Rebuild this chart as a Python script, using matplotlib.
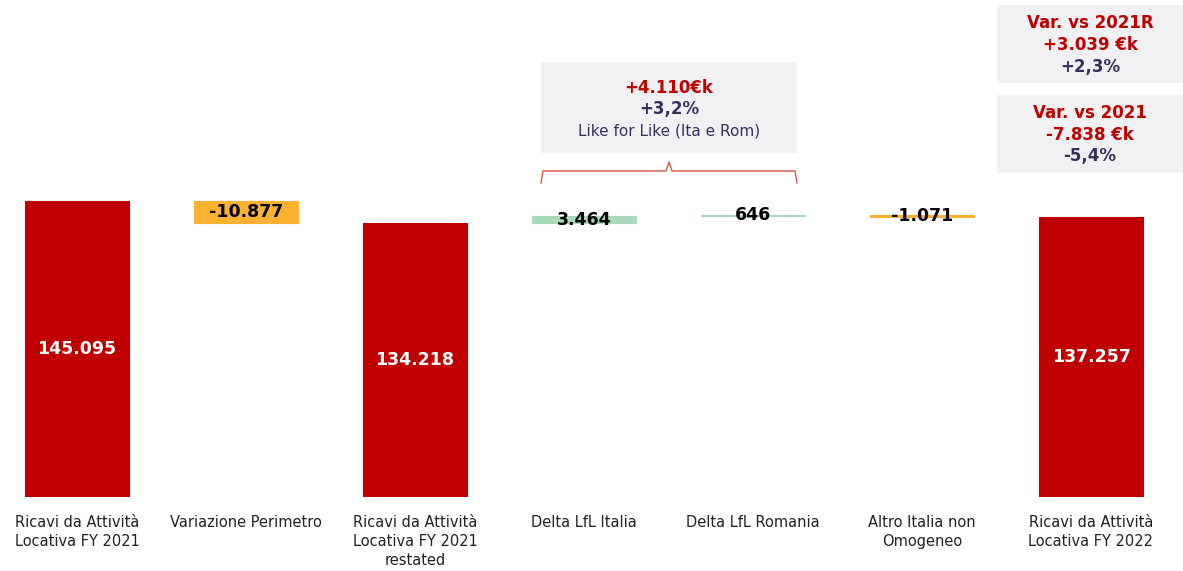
import numpy as np
import matplotlib.pyplot as plt
from matplotlib.patches import Rectangle

# Dati del waterfall
categorie = ["Ricavi da Attività\nLocativa FY 2021", "Variazione Perimetro",
             "Ricavi da Attività\nLocativa FY 2021\nrestated", "Delta LfL Italia",
             "Delta LfL Romania", "Altro Italia non\nOmogeneo",
             "Ricavi da Attività\nLocativa FY 2022"]
valori = [145.095, -10.877, 134.218, 3.464, 0.646, -1.071, 137.257]
etichette = ["145.095", "-10.877", "134.218", "3.464", "646", "-1.071", "137.257"]
totale = [True, False, True, False, False, False, True]

ROSSO = "#c00000"
ARANCIO = "#fbb232"
VERDE = "#aad9bb"
VIOLA = "#3b2f5c"

W, H = 1183, 571
fig = plt.figure(figsize=(W / 100, H / 100), dpi=100)
ax = fig.add_axes([0, (H - 497) / H, 1, 497 / H])
ax.patch.set_alpha(0)

# Calcolo basi
basi = []
cum = 0
for v, t in zip(valori, totale):
    if t:
        basi.append(0)
        cum = v
    else:
        if v >= 0:
            basi.append(cum)
        else:
            basi.append(cum + v)
        cum += v

colori = []
for v, t in zip(valori, totale):
    if t:
        colori.append(ROSSO)
    elif v < 0:
        colori.append(ARANCIO)
    else:
        colori.append(VERDE)

x = np.arange(len(valori))
ax.bar(x, np.abs(valori), bottom=basi, width=0.62, color=colori,
       edgecolor=colori, linewidth=0.8)

for i, (v, b, t) in enumerate(zip(valori, basi, totale)):
    if t:
        ax.text(i, v / 2, etichette[i], ha="center", va="center", color="white",
                fontsize=12.5, fontweight="bold")
    else:
        yc = b + abs(v) / 2
        ax.text(i, yc, etichette[i], ha="center", va="center", color="black",
                fontsize=12.5, fontweight="bold")

ax.set_xlim(-77 / 169, (W - 77) / 169)
ax.set_ylim(0, 497 / 2.04)
ax.set_xticks(x)
ax.set_xticklabels(categorie, fontsize=10.5, color="#222222", linespacing=1.35)
ax.tick_params(axis="x", length=0, pad=13)
ax.set_yticks([])
for s in ax.spines.values():
    s.set_visible(False)


# Helper: pixel -> frazione figura
def fx(px):
    return px / W


def fy(py):
    return (H - py) / H


def box(x0, y0, x1, y1):
    fig.add_artist(Rectangle((fx(x0), fy(y1)), fx(x1) - fx(x0), fy(y0) - fy(y1),
                             transform=fig.transFigure, facecolor="#f1f1f4",
                             edgecolor="none", zorder=-1))


# Box Like for Like
box(541, 62, 797, 153)
fig.text(fx(669), fy(88), "+4.110€k", color=ROSSO, fontsize=12, fontweight="bold",
         ha="center", va="center")
fig.text(fx(669), fy(109), "+3,2%", color=VIOLA, fontsize=12, fontweight="bold",
         ha="center", va="center")
fig.text(fx(669), fy(131), "Like for Like (Ita e Rom)", color=VIOLA, fontsize=11,
         ha="center", va="center")

# Graffa
bx = [541, 543, 666, 669, 672, 795, 797]
by = [183, 171, 171, 162, 171, 171, 183]
fig.add_artist(plt.Line2D([fx(p) for p in bx], [fy(p) for p in by],
                          transform=fig.transFigure, color="#d9534f", lw=1))

# Box variazioni
box(997, 5, 1183, 83)
fig.text(fx(1090), fy(23), "Var. vs 2021R", color=ROSSO, fontsize=12,
         fontweight="bold", ha="center", va="center")
fig.text(fx(1090), fy(45), "+3.039 €k", color=ROSSO, fontsize=12,
         fontweight="bold", ha="center", va="center")
fig.text(fx(1090), fy(67), "+2,3%", color=VIOLA, fontsize=12,
         fontweight="bold", ha="center", va="center")

box(997, 95, 1183, 173)
fig.text(fx(1090), fy(113), "Var. vs 2021", color=ROSSO, fontsize=12,
         fontweight="bold", ha="center", va="center")
fig.text(fx(1090), fy(135), "-7.838 €k", color=ROSSO, fontsize=12,
         fontweight="bold", ha="center", va="center")
fig.text(fx(1090), fy(156), "-5,4%", color=VIOLA, fontsize=12,
         fontweight="bold", ha="center", va="center")

fig.savefig("out.png", dpi=100)
